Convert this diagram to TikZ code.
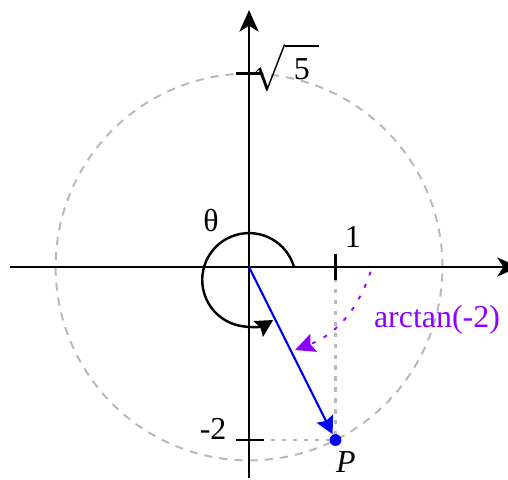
\documentclass[tikz,border=0pt]{standalone}
\usepackage{graphicx}
\usepackage{fontspec}
\setmainfont{Liberation Serif}
\usetikzlibrary{arrows.meta}
\definecolor{violetarc}{RGB}{140,0,255}
\definecolor{guide}{RGB}{185,185,185}
\begin{document}
\begin{tikzpicture}[
  axis/.style={line width=0.9pt,-{Stealth[length=2.5mm,width=2.2mm,inset=0.7mm]}},
  tickmark/.style={line width=0.9pt},
  guideline/.style={guide, line width=0.7pt, dash pattern=on 1.4pt off 2.2pt},
  circ/.style={guide, line width=0.65pt, dash pattern=on 2.7pt off 2.3pt},
  lbl/.style={font=\fontsize{10.5}{12}\selectfont, inner sep=0pt},
  dot/.style={circle, fill=blue, inner sep=0pt, minimum size=3.9pt},
]
\useasboundingbox (-2.879,-2.462) rectangle (2.994,3.087);
\coordinate (O) at (0,0);
\coordinate (xl) at (-2.763,0);
\coordinate (xr) at (3.12,0);
\coordinate (yb) at (0,-2.44);
\coordinate (yt) at (0,2.971);
\coordinate (X1) at (1,0);
\coordinate (Y2) at (0,-2);
\coordinate (P) at (1,-2);
\coordinate (thstart) at (0.52,0);
\coordinate (a1) at (1.406,-0.055);
\coordinate (a2) at (0.532,-0.96);

\draw[circ] (O) circle (2.236);
\draw[guideline] (X1) -- (P);
\draw[guideline] (Y2) -- (P);

\draw[axis] (xl) -- (xr);
\draw[axis] (yb) -- (yt);

\draw[tickmark] (-0.15,2.236) -- (0.15,2.236);
\draw[tickmark] (1,-0.15) -- (1,0.15);
\draw[tickmark] (-0.15,-2) -- (0.17,-2);

\draw[line width=0.8pt, -{Stealth[length=2mm,width=2.1mm,inset=0.3mm]}]
  (thstart) arc[start angle=16, end angle=301, radius=0.541];

\node[dot] (Pdot) at (P) {};
\draw[blue, line width=0.7pt, -{Stealth[length=2mm,width=2.1mm,inset=0.3mm]}] (O) -- (Pdot);

\draw[violetarc, line width=0.6pt, dash pattern=on 1.3pt off 3pt,
  -{Stealth[length=2.3mm,width=2.2mm,inset=0.4mm]}] (a1) to[bend left=25] (a2);

\node[lbl, anchor=base] (one) at (1.2,0.22) {1};
\node[lbl, anchor=base east] (m2) at (-0.254,-1.99) {-2};
\node[lbl, anchor=base] (th) at (-0.44,0.405) {θ};
\node[lbl, anchor=base] (Plbl) at (1.12,-2.37) {\textit{P}};
\node[lbl, anchor=base, text=violetarc] (arct) at (2.173,-0.694) {arctan(-2)};
\node[lbl, anchor=base west] (s5) at (0.046,2.162) {\raisebox{-1.6pt}{\scalebox{1.13}[1.41]{$\sqrt{\hbox to 9.9pt{\vphantom{5}\hfil}}$}}\llap{5\hspace{3pt}}};
\end{tikzpicture}
\end{document}
